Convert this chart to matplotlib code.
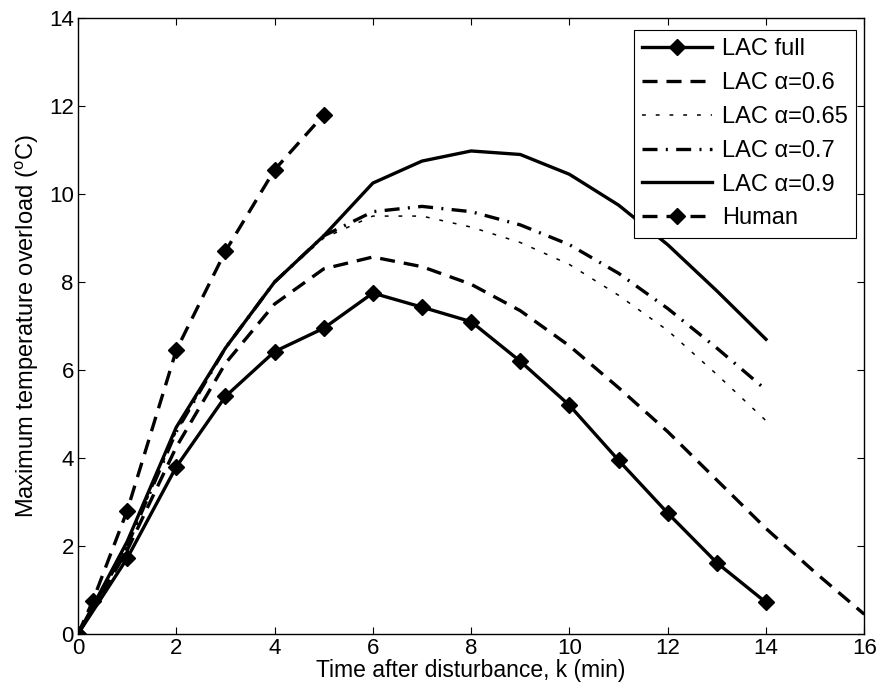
import matplotlib
matplotlib.use("Agg")
import matplotlib.pyplot as plt

plt.rcParams['font.family'] = ['Liberation Sans', 'DejaVu Sans']
plt.rcParams['mathtext.fontset'] = 'custom'
plt.rcParams['mathtext.rm'] = 'Liberation Sans'

k_full = [0, 1, 2, 3, 4, 5, 6, 7, 8, 9, 10, 11, 12, 13, 14]
lac_full = [0, 1.72, 3.8, 5.4, 6.42, 6.95, 7.75, 7.43, 7.1, 6.2, 5.2, 3.95, 2.75, 1.62, 0.72]

k_06 = [0, 1, 2, 3, 4, 5, 6, 7, 8, 9, 10, 11, 12, 13, 14, 15, 16]
lac_06 = [0, 1.9, 4.25, 6.15, 7.5, 8.3, 8.57, 8.35, 7.95, 7.35, 6.55, 5.6, 4.6, 3.5, 2.4, 1.4, 0.45]

k_a = [0, 1, 2, 3, 4, 5, 6, 7, 8, 9, 10, 11, 12, 13, 14]
lac_065 = [0, 2.0, 4.6, 6.5, 8.0, 9.0, 9.5, 9.5, 9.25, 8.9, 8.4, 7.7, 6.9, 5.9, 4.85]
lac_07 = [0, 2.0, 4.6, 6.5, 8.0, 9.05, 9.6, 9.72, 9.6, 9.3, 8.85, 8.2, 7.4, 6.5, 5.55]
lac_09 = [0, 2.1, 4.7, 6.5, 8.0, 9.05, 10.25, 10.75, 10.98, 10.9, 10.45, 9.75, 8.85, 7.8, 6.7]

k_h = [0, 0.3, 1, 2, 3, 4, 5]
human = [0, 0.75, 2.8, 6.45, 8.7, 10.55, 11.8]

fig = plt.figure(figsize=(8.81, 6.96), dpi=100)
ax = fig.add_axes([0.0885, 0.089, 0.8925, 0.885])

lw = 2.4
ax.plot(k_full, lac_full, '-', color='k', lw=lw, marker='D', ms=8, label='LAC full')
ax.plot(k_06, lac_06, color='k', lw=lw, dashes=(4.5, 2.7), label='LAC α=0.6')
ax.plot(k_a, lac_065, color='k', lw=1.1, dashes=(2.5, 6.5), label='LAC α=0.65')
ax.plot(k_a, lac_07, color='k', lw=lw, dashes=(4.5, 2.5, 0.6, 2.5), label='LAC α=0.7')
ax.plot(k_a, lac_09, '-', color='k', lw=lw, label='LAC α=0.9')
ax.plot(k_h, human, color='k', lw=lw, dashes=(4.5, 2.7), marker='D', ms=8, label='Human')

ax.set_xlim(0, 16)
ax.set_ylim(0, 14)
ax.set_xticks(range(0, 17, 2))
ax.set_yticks(range(0, 15, 2))
ax.tick_params(direction='in', labelsize=16, length=5, width=0.8, top=True, right=True, pad=3)
for s in ax.spines.values():
    s.set_linewidth(1.0)
ax.set_xlabel('Time after disturbance, k (min)', fontsize=16.5, labelpad=0)
ax.set_ylabel(r'Maximum temperature overload ($^{\mathrm{o}}$C)', fontsize=17, labelpad=6)

leg = ax.legend(loc='upper right', bbox_to_anchor=(0.9898, 0.9805), fontsize=17,
                handlelength=2.97, framealpha=1, fancybox=False, edgecolor='k',
                borderaxespad=0, labelspacing=0.5, handletextpad=0.42, borderpad=0.35)
leg.get_frame().set_linewidth(0.8)

fig.savefig('out.png', dpi=100)
